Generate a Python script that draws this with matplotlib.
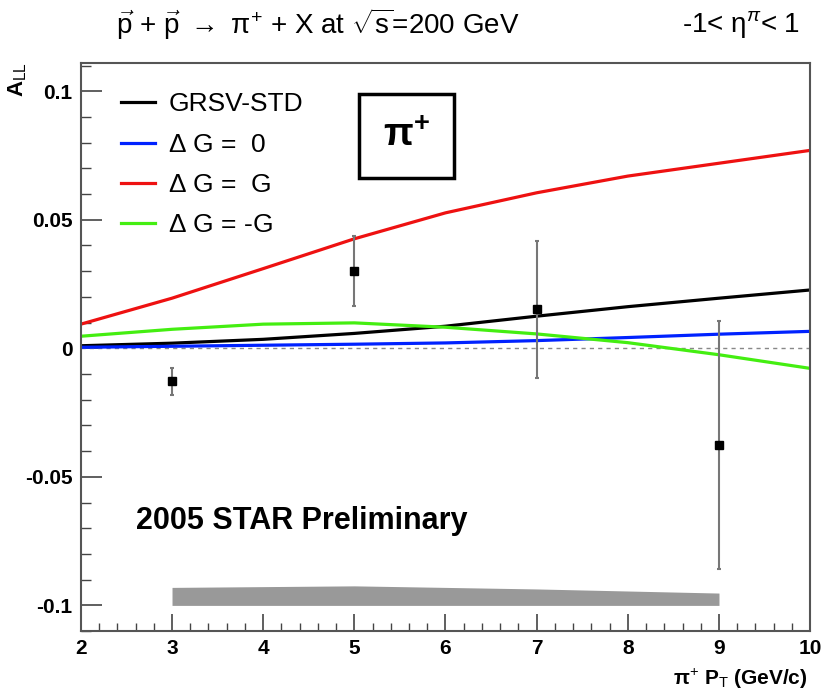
import matplotlib
matplotlib.use("Agg")
import matplotlib.pyplot as plt
from matplotlib.ticker import MultipleLocator

plt.rcParams['font.family'] = ['Liberation Sans', 'DejaVu Sans']
plt.rcParams['mathtext.fontset'] = 'custom'
plt.rcParams['mathtext.rm'] = 'Liberation Sans'
plt.rcParams['mathtext.it'] = 'Liberation Sans:italic'
plt.rcParams['mathtext.bf'] = 'Liberation Sans:bold'

# measured A_LL points
pt_data = [3, 5, 7, 9]
all_data = [-0.0129, 0.0300, 0.0152, -0.0375]
all_err = [0.0051, 0.0135, 0.0266, 0.0482]

# systematic band
band_x = [3, 5, 7, 9]
band_top = [-0.0930, -0.0924, -0.0936, -0.0952]
band_bottom = [-0.100, -0.100, -0.100, -0.100]

# GRSV predictions
pt_theory = [2, 3, 4, 5, 6, 7, 8, 9, 10]
grsv_std = [0.0010, 0.0020, 0.0035, 0.0058, 0.0086, 0.0125, 0.0162, 0.0195, 0.0227]
dg_zero = [0.0004, 0.0008, 0.0012, 0.0016, 0.0021, 0.0030, 0.0042, 0.0055, 0.0066]
dg_max = [0.0094, 0.0195, 0.0310, 0.0426, 0.0527, 0.0605, 0.0670, 0.0720, 0.0770]
dg_min = [0.0047, 0.0074, 0.0094, 0.0099, 0.0082, 0.0056, 0.0022, -0.0025, -0.0078]

fig = plt.figure(figsize=(8.25, 6.92), dpi=100)
ax = fig.add_axes([0.098, 0.088, 0.884, 0.821])

ax.axhline(0, color="#888888", linestyle=(0, (3, 3)), linewidth=1.0)
ax.fill_between(band_x, band_bottom, band_top, color="#999999", linewidth=0)

ax.plot(pt_theory, grsv_std, color="black", lw=2.3, label="GRSV-STD")
ax.plot(pt_theory, dg_zero, color="#0022ff", lw=2.3, label=r"$\Delta$ G =  0")
ax.plot(pt_theory, dg_max, color="#ee1111", lw=2.3, label=r"$\Delta$ G =  G")
ax.plot(pt_theory, dg_min, color="#44ee11", lw=2.3, label=r"$\Delta$ G = -G")

ax.errorbar(pt_data, all_data, yerr=all_err, fmt="s", color="black", ms=6,
            ecolor="#777777", elinewidth=1.5, capsize=1.5, capthick=1.5)

ax.set_xlim(2, 10)
ax.set_ylim(-0.110, 0.111)
ax.xaxis.set_major_locator(MultipleLocator(1))
ax.xaxis.set_minor_locator(MultipleLocator(0.2))
ax.yaxis.set_minor_locator(MultipleLocator(0.01))
ax.set_yticks([-0.1, -0.05, 0, 0.05, 0.1])
ax.set_yticklabels(["-0.1", "-0.05", "0", "0.05", "0.1"])
ax.tick_params(axis="both", which="major", direction="in", width=1.2,
               color="#444444", labelsize=15)
ax.tick_params(axis="y", which="major", length=15, pad=6)
ax.tick_params(axis="y", which="minor", direction="in", length=7.2, width=1.0,
               color="#444444")
ax.tick_params(axis="x", which="major", length=12.2, pad=6)
ax.tick_params(axis="x", which="minor", direction="in", length=5.8, width=1.0,
               color="#444444")
ax.tick_params(top=False, right=False, which="both")
for lbl in ax.get_xticklabels() + ax.get_yticklabels():
    lbl.set_fontweight("bold")
for sp in ax.spines.values():
    sp.set_color("#555555")
    sp.set_linewidth(1.5)

ax.legend(loc="upper left", bbox_to_anchor=(0.022, 0.99), frameon=False,
          fontsize=19, handlelength=1.3, labelspacing=0.62, handletextpad=0.5)

ax.text(0.447, 0.871, r"$\mathbf{\pi^{+}}$", transform=ax.transAxes, ha="center",
        va="center", fontsize=28,
        bbox=dict(boxstyle="square,pad=0.62", fc="white", ec="black", lw=2.5))

ax.text(0.075, 0.193, "2005 STAR Preliminary", transform=ax.transAxes,
        fontsize=22, fontweight="bold", va="center")

fig.text(0.14, 0.965, r"$\vec{\mathrm{p}}$ + $\vec{\mathrm{p}}$ $\rightarrow$ π$^{+}$ + X at $\sqrt{\mathrm{s}}$=200 GeV",
         fontsize=20, va="center", ha="left")
fig.text(0.97, 0.965, r"-1< η$^{π}$< 1", fontsize=20, va="center", ha="right")

fig.text(0.022, 0.885, r"A$_{\mathrm{LL}}$", rotation=90, fontsize=16,
         fontweight="bold", va="center", ha="center")
fig.text(0.979, 0.002, r"π$^{+}$ P$_{\mathrm{T}}$ (GeV/c)", fontsize=15,
         fontweight="bold", ha="right", va="bottom")

fig.savefig("out.png", dpi=100)
